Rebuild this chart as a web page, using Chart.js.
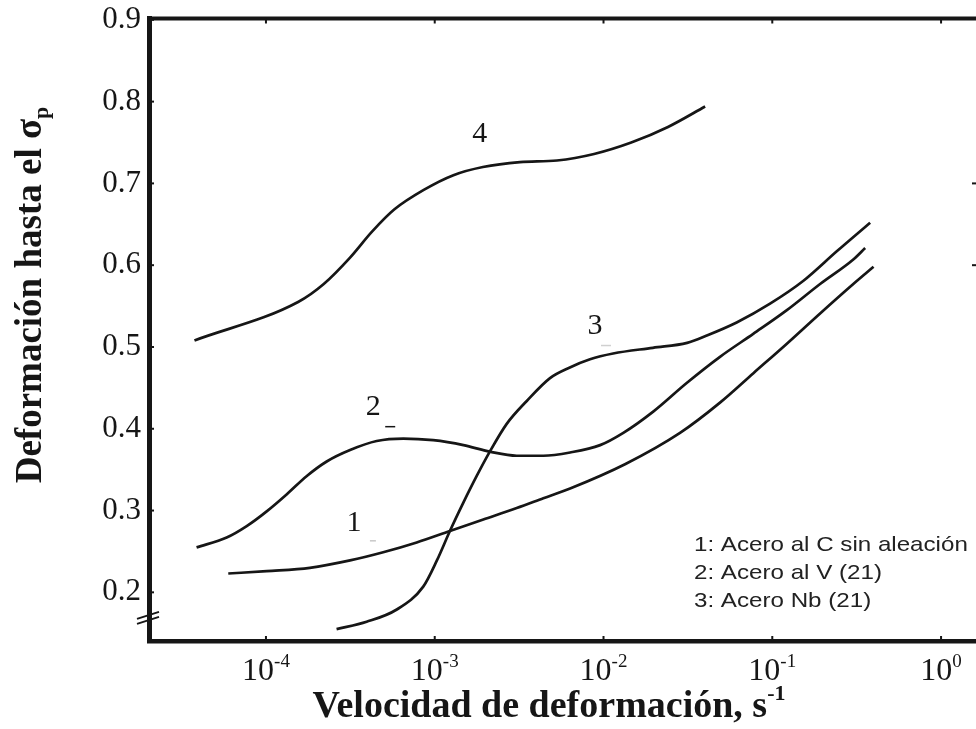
<!DOCTYPE html>
<html>
<head>
<meta charset="utf-8">
<script src="https://cdn.jsdelivr.net/npm/chart.js@4.4.1/dist/chart.umd.min.js"></script>
<style>
  html, body { margin: 0; padding: 0; background: #fff; overflow: hidden; }
</style>
</head>
<body>
<canvas id="chart" width="976" height="729"></canvas>
<script>
// Strain rate (s^-1) and strain to peak stress
const rate1 = [5.98e-5, 1.01e-4, 1.82e-4, 3.15e-4, 4.95e-4, 7.82e-4, 1.23e-3, 1.94e-3, 3.06e-3, 4.40e-3, 6.34e-3, 1.35e-2, 2.84e-2, 4.90e-2, 7.73e-2, 0.122, 0.192, 0.302, 0.398];
const strain1 = [0.223, 0.226, 0.230, 0.239, 0.249, 0.261, 0.275, 0.289, 0.303, 0.315, 0.327, 0.357, 0.395, 0.432, 0.468, 0.504, 0.541, 0.577, 0.598];

const rate2 = [3.88e-5, 5.85e-5, 7.69e-5, 1.01e-4, 1.33e-4, 1.74e-4, 2.29e-4, 3.15e-4, 4.53e-4, 6.52e-4, 9.79e-4, 1.48e-3, 2.12e-3, 3.06e-3, 4.40e-3, 6.34e-3, 9.55e-3, 1.31e-2, 1.97e-2, 3.11e-2, 4.90e-2, 7.71e-2, 0.122, 0.192, 0.302, 0.355];
const strain2 = [0.255, 0.267, 0.281, 0.299, 0.320, 0.342, 0.360, 0.374, 0.385, 0.388, 0.386, 0.380, 0.372, 0.367, 0.367, 0.371, 0.380, 0.395, 0.421, 0.456, 0.488, 0.516, 0.545, 0.577, 0.607, 0.621];

const rate3 = [2.62e-4, 3.95e-4, 5.96e-4, 8.55e-4, 1.03e-3, 1.23e-3, 1.48e-3, 1.77e-3, 2.12e-3, 2.67e-3, 3.51e-3, 4.82e-3, 6.32e-3, 8.32e-3, 1.14e-2, 1.96e-2, 3.13e-2, 4.09e-2, 6.15e-2, 9.70e-2, 0.153, 0.241, 0.380];
const strain3 = [0.155, 0.164, 0.179, 0.207, 0.239, 0.275, 0.310, 0.342, 0.372, 0.406, 0.434, 0.462, 0.475, 0.485, 0.492, 0.499, 0.505, 0.514, 0.530, 0.553, 0.581, 0.617, 0.652];

const rate4 = [3.77e-5, 1.55e-4, 2.20e-4, 3.14e-4, 4.25e-4, 5.75e-4, 8.61e-4, 1.29e-3, 1.93e-3, 3.20e-3, 5.30e-3, 8.79e-3, 1.46e-2, 2.41e-2, 4.00e-2];
const strain4 = [0.508, 0.555, 0.577, 0.609, 0.641, 0.668, 0.692, 0.710, 0.720, 0.726, 0.728, 0.736, 0.750, 0.769, 0.794];

// curve numbers written on the plot
const curveLabels = ['1', '2', '3', '4'];
const curveLabelRates = [3.32e-4, 4.32e-4, 8.9e-3, 1.85e-3];
const curveLabelStrains = [0.285, 0.427, 0.525, 0.760];

// tick labels
const xTickExps = [-4, -3, -2, -1, 0];
const yTickValues = [0.2, 0.3, 0.4, 0.5, 0.6, 0.7, 0.8, 0.9];
const rightTickValues = [0.6, 0.7];

const legendLines = ['1: Acero al C sin aleación', '2: Acero al V (21)', '3: Acero Nb (21)'];

const INK = '#161616';
const SERIF = '"Liberation Serif", "Times New Roman", serif';
const SANS = '"Liberation Sans", Arial, sans-serif';

function toPoints(xs, ys) {
    return xs.map((x, i) => ({ x: x, y: ys[i] }));
}

function curve(xs, ys) {
    return {
        data: toPoints(xs, ys),
        borderColor: INK,
        borderWidth: 2.7,
        pointRadius: 0,
        fill: false,
        cubicInterpolationMode: 'monotone'
    };
}

// text with a raised / lowered small part (10^-4, s^-1, sigma_p)
function drawScripted(ctx, base, small, x, y, bigFont, smallFont, shift, align) {
    ctx.font = bigFont;
    const wb = ctx.measureText(base).width;
    ctx.font = smallFont;
    const ws = ctx.measureText(small).width;
    const x0 = align === 'center' ? x - (wb + ws) / 2 : x;
    ctx.textAlign = 'left';
    ctx.font = bigFont;
    ctx.fillText(base, x0, y);
    ctx.font = smallFont;
    ctx.fillText(small, x0 + wb, y + shift);
}

// extra drawing: frame, inward ticks, break mark, labels and titles
const decorations = {
    id: 'decorations',
    afterDraw(chart) {
        const ctx = chart.ctx;
        const area = chart.chartArea;
        const xs = chart.scales.x;
        const ys = chart.scales.y;
        ctx.save();
        ctx.strokeStyle = INK;
        ctx.fillStyle = INK;

        // top frame line
        ctx.lineWidth = 4;
        ctx.beginPath();
        ctx.moveTo(area.left - 2, area.top);
        ctx.lineTo(area.right, area.top);
        ctx.stroke();

        // inward tick marks
        ctx.lineWidth = 2;
        xTickExps.forEach(e => {
            const px = xs.getPixelForValue(Math.pow(10, e));
            ctx.beginPath();
            ctx.moveTo(px, area.bottom);
            ctx.lineTo(px, area.bottom - 5);
            ctx.moveTo(px, area.top);
            ctx.lineTo(px, area.top + 5);
            ctx.stroke();
        });
        yTickValues.forEach(v => {
            const py = ys.getPixelForValue(v);
            ctx.beginPath();
            ctx.moveTo(area.left, py);
            ctx.lineTo(area.left + 5, py);
            ctx.stroke();
        });
        rightTickValues.forEach(v => {
            const py = ys.getPixelForValue(v);
            ctx.beginPath();
            ctx.moveTo(area.right, py);
            ctx.lineTo(area.right - 4, py);
            ctx.stroke();
        });

        // axis break on the y axis
        const yb = ys.getPixelForValue(0.17);
        ctx.lineWidth = 2;
        ctx.beginPath();
        ctx.moveTo(area.left - 12, yb + 2);
        ctx.lineTo(area.left + 10, yb - 5);
        ctx.moveTo(area.left - 12, yb + 7);
        ctx.lineTo(area.left + 10, yb);
        ctx.stroke();

        // x tick labels 10^n
        ctx.textBaseline = 'alphabetic';
        xTickExps.forEach(e => {
            const px = xs.getPixelForValue(Math.pow(10, e));
            drawScripted(ctx, '10', String(e), px, 680, '32px ' + SERIF, '19px ' + SERIF, -13, 'center');
        });

        // curve numbers
        ctx.font = '30px ' + SERIF;
        ctx.textAlign = 'center';
        ctx.textBaseline = 'middle';
        curveLabels.forEach((t, i) => {
            ctx.fillText(t, xs.getPixelForValue(curveLabelRates[i]), ys.getPixelForValue(curveLabelStrains[i]));
        });
        // small dashes left under the numbers
        const dash = (i, dx, dy, w, color) => {
            const x0 = xs.getPixelForValue(curveLabelRates[i]) + dx;
            const y0 = ys.getPixelForValue(curveLabelStrains[i]) + dy;
            ctx.strokeStyle = color;
            ctx.lineWidth = 1.5;
            ctx.beginPath();
            ctx.moveTo(x0, y0);
            ctx.lineTo(x0 + w, y0);
            ctx.stroke();
        };
        dash(1, 12, 20, 10, INK);
        dash(0, 16, 18, 6, '#c8c8c8');
        dash(2, 6, 19, 10, '#d0d0d0');
        ctx.strokeStyle = INK;

        // legend text (slightly wide face in the original)
        ctx.save();
        ctx.font = '21px ' + SANS;
        ctx.fillStyle = '#222';
        ctx.textAlign = 'left';
        ctx.textBaseline = 'alphabetic';
        ctx.translate(694, 0);
        ctx.scale(1.15, 1);
        legendLines.forEach((t, i) => {
            ctx.fillText(t, 0, 551 + i * 28);
        });
        ctx.restore();

        // x axis title with superscript
        ctx.textBaseline = 'alphabetic';
        drawScripted(ctx, 'Velocidad de deformación, s', '-1', 549, 717, 'bold 38px ' + SERIF, 'bold 22px ' + SERIF, -17, 'center');

        // y axis title, rotated, with subscript
        ctx.translate(41, 295);
        ctx.rotate(-Math.PI / 2);
        drawScripted(ctx, 'Deformación hasta el σ', 'p', 0, 0, 'bold 37px ' + SERIF, 'bold 22px ' + SERIF, 7, 'center');

        ctx.restore();
    }
};

new Chart(document.getElementById('chart'), {
    type: 'line',
    data: {
        datasets: [
            curve(rate1, strain1),
            curve(rate2, strain2),
            curve(rate3, strain3),
            curve(rate4, strain4)
        ]
    },
    options: {
        responsive: false,
        animation: false,
        layout: { padding: { left: 0, top: 12, right: 0, bottom: 0 } },
        plugins: {
            legend: { display: false },
            tooltip: { enabled: false }
        },
        scales: {
            x: {
                type: 'logarithmic',
                min: Math.pow(10, -4.693),
                max: Math.pow(10, 0.207),
                grid: { display: false },
                border: { display: true, color: INK, width: 4.5 },
                ticks: { display: false },
                afterFit(scale) { scale.height = 88; }
            },
            y: {
                type: 'linear',
                min: 0.1405,
                max: 0.9015,
                grid: { display: false },
                border: { display: true, color: INK, width: 5 },
                afterBuildTicks(scale) {
                    scale.ticks = yTickValues.map(v => ({ value: v }));
                },
                ticks: {
                    color: INK,
                    padding: 0,
                    font: { family: SERIF, size: 31 },
                    callback: v => v.toFixed(1)
                },
                afterFit(scale) { scale.width = 149; }
            }
        }
    },
    plugins: [decorations]
});
</script>
</body>
</html>
